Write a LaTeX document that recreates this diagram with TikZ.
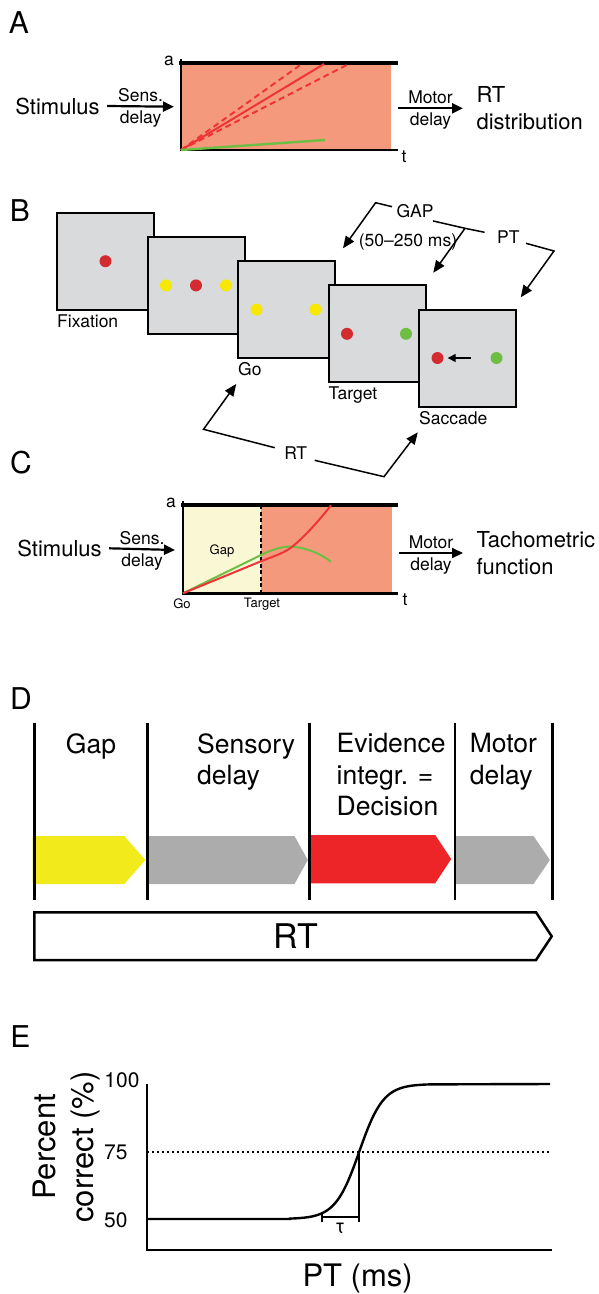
\documentclass[tikz,border=0pt]{standalone}
\usepackage{fontspec}
\setmainfont{TeX Gyre Heros}
\usetikzlibrary{arrows.meta,positioning}

\definecolor{accsalmon}{RGB}{245,153,124}
\definecolor{gapcream}{RGB}{250,248,212}
\definecolor{screengray}{RGB}{217,218,220}
\definecolor{dotred}{RGB}{211,44,48}
\definecolor{dotyellow}{RGB}{247,232,0}
\definecolor{dotgreen}{RGB}{110,190,68}
\definecolor{linered}{RGB}{238,52,56}
\definecolor{linegreen}{RGB}{108,190,69}
\definecolor{phaseyellow}{RGB}{242,234,26}
\definecolor{phasegray}{RGB}{171,172,171}
\definecolor{phasered}{RGB}{238,37,40}

\tikzset{
  letter/.style={font=\fontsize{30}{30}\selectfont},
  bigtext/.style={font=\fontsize{22}{26.7}\selectfont, align=left},
  midtext/.style={font=\fontsize{17.5}{20}\selectfont},
  smalltext/.style={font=\fontsize{13}{15}\selectfont},
  screen/.style={draw=black, line width=2pt, fill=screengray, minimum width=97pt, minimum height=97pt, inner sep=0pt, anchor=north west},
  spot/.style={circle, inner sep=0pt, minimum size=12pt},
  flow/.style={line width=2.2pt, -{Triangle[length=11pt,width=10pt]}},
  bracket/.style={line width=1.5pt, -{Triangle[length=12pt,width=10pt]}},
  axis/.style={line width=2.4pt},
  bound/.style={line width=4pt},
  trace/.style={line width=2pt, linered},
  phasetext/.style={font=\fontsize{26.5}{31.7}\selectfont, align=left, anchor=north west, inner sep=0pt},
}

\begin{document}
\begin{tikzpicture}[x=1pt,y=-1pt]
\useasboundingbox (0,0) rectangle (599,1294);

% A
\node[letter] (labA) at (19,22.5) {A};
\fill[accsalmon] (181,63.3) rectangle (391,150);
\draw[axis] (181,59) -- (181,150) -- (398,150);
\draw[bound] (179,63.3) -- (398,63.3);
\node[midtext] (aA) at (169,61) {a};
\node[midtext] (tA) at (404,157) {t};
\draw[trace] (181,150) -- (324,64);
\draw[trace, dash pattern=on 6pt off 4pt] (181,150) -- (301.7,64);
\draw[trace, dash pattern=on 6pt off 4pt] (181,150) -- (346.7,65);
\draw[trace, linegreen, line width=2.4pt] (181,150) -- (325,140);

\node[bigtext] (stimA) at (57.5,106) {Stimulus};
\coordinate (inA) at (174,106.7);
\draw[flow] ([xshift=4pt]stimA.east) -- (inA)
  node[midway, above, midtext] {Sens.} node[midway, below, midtext] {delay};
\node[bigtext, anchor=west] (rtA) at (473,108.3) {RT\\distribution};
\coordinate (outA) at (398,108.3);
\draw[flow] (outA) -- ([xshift=-10pt]rtA.west)
  node[midway, above, midtext] {Motor} node[midway, below, midtext] {delay};

% B
\node[letter] (labB) at (20,211) {B};
\node[screen] (fix) at (56,211.7) {};
\node[screen] (cue) at (146.5,235.9) {};
\node[screen] (go) at (237,260.1) {};
\node[screen] (tgt) at (327.5,284.3) {};
\node[screen] (sac) at (418,308.5) {};

\node[spot, fill=dotred] (fixdot) at (fix.center) {};
\node[spot, fill=dotyellow] (cueL) at ([xshift=-30pt]cue.center) {};
\node[spot, fill=dotred] (cueM) at (cue.center) {};
\node[spot, fill=dotyellow] (cueR) at ([xshift=30pt]cue.center) {};
\node[spot, fill=dotyellow] (goL) at ([xshift=-30pt]go.center) {};
\node[spot, fill=dotyellow] (goR) at ([xshift=29pt]go.center) {};
\node[spot, fill=dotred] (tgtL) at ([xshift=-30pt]tgt.center) {};
\node[spot, fill=dotgreen] (tgtR) at ([xshift=29pt]tgt.center) {};
\node[spot, fill=dotred] (sacL) at ([xshift=-30pt]sac.center) {};
\node[spot, fill=dotgreen] (sacR) at ([xshift=29pt]sac.center) {};
\draw[line width=1.4pt, -{Triangle[length=8pt,width=8pt]}, shorten >=4pt] ([xshift=3pt]sac.center) -- (sacL.east);

\node[midtext, inner sep=0pt, below right=3.5pt and 1pt of fix.south west] (fixlbl) {Fixation};
\node[midtext, inner sep=0pt, below right=3.5pt and 1pt of go.south west] (golbl) {Go};
\node[midtext, inner sep=0pt, below right=3pt and 1pt of tgt.south west] (tgtlbl) {Target};
\node[midtext, inner sep=0pt, below right=3.5pt and 1pt of sac.south west] (saclbl) {Saccade};

\node[midtext] (gap) at (415,210.7) {GAP};
\node[midtext] (gapms) at (408,241.7) {(50--250 ms)};
\node[midtext] (pt) at (508.3,237.3) {PT};
\node[midtext] (rt) at (295.7,453.3) {RT};
\coordinate (gapL) at (375.6,202.7);
\coordinate (goTip) at (343,248.3);
\coordinate (junc) at (465,228.3);
\coordinate (tgtTip) at (433.3,272.7);
\coordinate (ptR) at (554,251);
\coordinate (sacTip) at (520.7,297.3);
\coordinate (rtL) at (203.5,429.3);
\coordinate (goTipB) at (236.2,384);
\coordinate (rtR) at (384,476.7);
\coordinate (sacTipB) at (417.8,432.3);
\draw[bracket] ([xshift=-1pt,yshift=4pt]gap.west) -- (gapL) -- (goTip);
\draw[line width=1.5pt] ([xshift=-4pt]gap.south east) -- (junc) -- ([xshift=-9pt,yshift=5pt]pt.west);
\draw[bracket] (junc) -- (tgtTip);
\draw[bracket] ([xshift=3pt,yshift=-6pt]pt.east) -- (ptR) -- (sacTip);
\draw[bracket] ([xshift=-6pt,yshift=5.6pt]rt.west) -- (rtL) -- (goTipB);
\draw[bracket] ([xshift=4pt,yshift=-7pt]rt.east) -- (rtR) -- (sacTipB);

% C
\node[letter] (labC) at (21,462.5) {C};
\fill[gapcream] (183,505.3) rectangle (261,593.3);
\fill[accsalmon] (261,505.3) rectangle (391.5,593.3);
\draw[axis] (183,501) -- (183,593.3) -- (398,593.3);
\draw[bound] (181,505.3) -- (398,505.3);
\draw[line width=1.5pt, dash pattern=on 4pt off 2.5pt] (261,505.3) -- (261,593.3);
\node[midtext] (aC) at (171,503) {a};
\node[midtext] (tC) at (405,600) {t};
\node[smalltext] (goC) at (182,604) {Go};
\node[smalltext] (tgtC) at (262,604) {Target};
\node[smalltext] (gapC) at (222,550.7) {Gap};
\draw[trace, linegreen] (183,593.3) -- (255,558) .. controls (270,550) and (282,546) .. (292,546.7)
  .. controls (305,547.5) and (320,553) .. (331,561.7);
\draw[trace] (183,593.3) -- (258,562.5) .. controls (274,556) and (285,553) .. (293,546)
  .. controls (303,538) and (318,522) .. (331,505.3);

\node[bigtext] (stimC) at (59.5,548.3) {Stimulus};
\coordinate (inC) at (175,550);
\draw[flow] ([xshift=4pt]stimC.east) -- (inC)
  node[midway, above, midtext] {Sens.} node[midway, below, midtext] {delay};
\node[bigtext, anchor=west] (tacho) at (473,553) {Tachometric\\function};
\coordinate (outC) at (399,553);
\draw[flow] (outC) -- ([xshift=-10pt]tacho.west)
  node[midway, above, midtext] {Motor} node[midway, below, midtext] {delay};

% D
\node[letter] (labD) at (21,698.3) {D};
\fill[phaseyellow] (32.5,836) -- (124.3,836) -- (145.3,860) -- (124.3,884) -- (32.5,884) -- cycle;
\fill[phasegray] (148.4,836) -- (294.5,836) -- (307.8,860) -- (294.5,884) -- (148.4,884) -- cycle;
\fill[phasered] (310.9,835) -- (435.2,835) -- (451.2,859) -- (435.2,883.3) -- (310.9,883.3) -- cycle;
\fill[phasegray] (456.2,836) -- (533.5,836) -- (549.9,860) -- (533.5,884) -- (456.2,884) -- cycle;
\foreach \x in {34.4,147.2,309.8,455,552.6}
  \draw[line width=2.8pt] (\x,722.7) -- (\x,900);
\node[phasetext, anchor=north] (gapD) at (91,733) {Gap};
\node[phasetext] (sensD) at (197,733) {Sensory\\delay};
\node[phasetext] (evidD) at (336.5,733) {Evidence\\integr. =\\Decision};
\node[phasetext] (motD) at (469.6,733) {Motor\\delay};
\draw[line width=2.5pt] (34.3,912.3) -- (536,912.3) -- (551.7,936.3) -- (536,960) -- (34.3,960) -- cycle;
\node[font=\fontsize{34}{34}\selectfont] (rtD) at (296,936) {RT};

% E
\node[letter] (labE) at (20.5,1037) {E};
\draw[line width=2.2pt] (147.3,1084) -- (147.3,1250) -- (552,1250);
\node[font=\fontsize{21}{21}\selectfont, anchor=east] (t100) at (143,1080) {100};
\node[font=\fontsize{21}{21}\selectfont, anchor=east] (t75) at (131,1152) {75};
\node[font=\fontsize{21}{21}\selectfont, anchor=east] (t50) at (131,1220) {50};
\draw[line width=2pt, dash pattern=on 2pt off 3pt] (147.3,1151.5) -- (550,1151.5);
\draw[line width=2.4pt] (147.3,1219) -- (290,1219)
  -- plot[domain=290:430, samples=80] (\x, {1219 - 135/(1+exp(-(\x-359.3)/12))})
  -- (550,1084);
\draw[line width=1.8pt] (321.7,1212.5) -- (321.7,1221.5);
\draw[line width=1.8pt] (321.7,1216.7) -- (359.3,1216.7);
\draw[line width=1.8pt] (359.3,1151.5) -- (359.3,1221.5);
\node[font=\fontsize{20}{20}\selectfont] (tau) at (340,1228.3) {τ};
\node[font=\fontsize{31}{31}\selectfont] (ptE) at (357.6,1278.3) {PT (ms)};
\node[font=\fontsize{31}{37.6}\selectfont, align=center, rotate=90] (ylab) at (66.7,1147) {Percent\\correct (\%)};
\end{tikzpicture}
\end{document}
